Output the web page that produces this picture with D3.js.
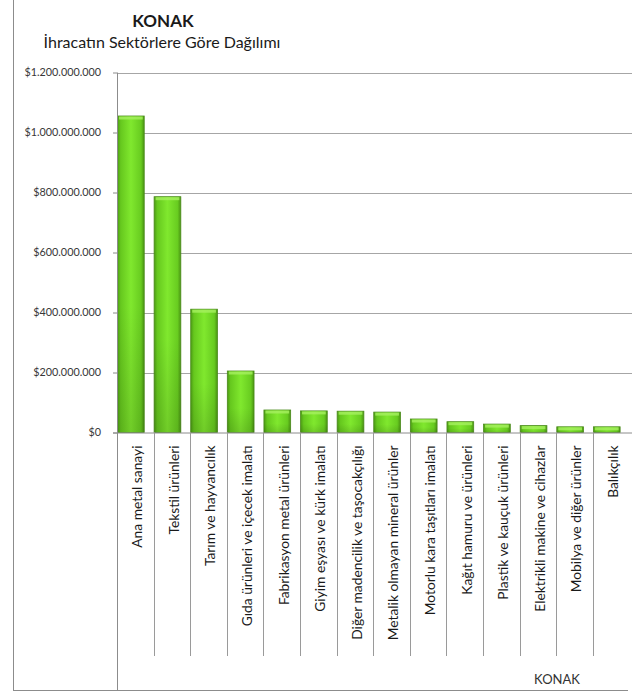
<!DOCTYPE html>
<html>
<head>
<meta charset="utf-8">
<script src="https://cdn.jsdelivr.net/npm/d3@7/dist/d3.min.js"></script>
<style>
  html, body { margin: 0; padding: 0; background: #fff; }
  svg { display: block; }
  text { font-family: Lato, "Open Sans", sans-serif; }
</style>
</head>
<body>
<svg id="chart" width="632" height="694"></svg>
<script>
const categories = [
  "Ana metal sanayi",
  "Tekstil ürünleri",
  "Tarım ve hayvancılık",
  "Gıda ürünleri ve içecek imalatı",
  "Fabrikasyon metal ürünleri",
  "Giyim eşyası ve kürk imalatı",
  "Diğer madencilik ve taşocakçılığı",
  "Metalik olmayan mineral ürünler",
  "Motorlu kara taşıtları imalatı",
  "Kağıt hamuru ve ürünleri",
  "Plastik ve kauçuk ürünleri",
  "Elektrikli makine ve cihazlar",
  "Mobilya ve diğer ürünler",
  "Balıkçılık"
];
const values = [1055e6, 786e6, 411e6, 205e6, 75e6, 72e6, 71e6, 68e6, 45e6, 36e6, 28e6, 23e6, 19e6, 19e6];
const yTicks = [0, 200e6, 400e6, 600e6, 800e6, 1000e6, 1200e6];
const title = "KONAK";
const subtitle = "İhracatın Sektörlere Göre Dağılımı";
const groupLabel = "KONAK";

const svg = d3.select("#chart");

const plotLeft = 117, plotRight = 629.5, plotTop = 72.5, plotBottom = 432.5;

const x = d3.scaleBand().domain(categories).range([plotLeft, plotRight]).paddingInner(0).paddingOuter(0);
const y = d3.scaleLinear().domain([0, 1200e6]).range([plotBottom, plotTop]);

const locale = d3.formatLocale({decimal: ",", thousands: ".", grouping: [3], currency: ["$", ""]});
const fmt = locale.format("$,");

// gradient
const defs = svg.append("defs");
const g1 = defs.append("linearGradient").attr("id", "barGrad").attr("x1", "0").attr("x2", "1").attr("y1", "0").attr("y2", "0");
[[0, "#4c9a14"], [0.12, "#66c81e"], [0.5, "#80e82e"], [0.88, "#68cc20"], [1, "#4a9412"]].forEach(([o, c]) =>
  g1.append("stop").attr("offset", o).attr("stop-color", c));
const g2 = defs.append("linearGradient").attr("id", "barGradV").attr("x1", "0").attr("x2", "0").attr("y1", "0").attr("y2", "1");
[[0, "#ffffff", 0.0], [0.6, "#000000", 0.0], [1, "#000000", 0.12]].forEach(([o, c, op]) =>
  g2.append("stop").attr("offset", o).attr("stop-color", c).attr("stop-opacity", op));

// outer border
svg.append("line").attr("x1", 13.5).attr("x2", 13.5).attr("y1", 0).attr("y2", 691).attr("stroke", "#8c8c8c");
svg.append("line").attr("x1", 13).attr("x2", 628).attr("y1", 690.5).attr("y2", 690.5).attr("stroke", "#8c8c8c");

// titles
svg.append("text").attr("x", 163).attr("y", 27).attr("text-anchor", "middle")
  .attr("font-size", 17).attr("font-weight", "bold").attr("fill", "#1a1a1a").text(title);
svg.append("text").attr("x", 162).attr("y", 48).attr("text-anchor", "middle")
  .attr("font-size", 16).attr("fill", "#1a1a1a").text(subtitle);

// gridlines
svg.append("g").selectAll("line").data(yTicks.filter(d => d > 0)).join("line")
  .attr("x1", plotLeft).attr("x2", 632)
  .attr("y1", d => Math.round(y(d)) + 0.5).attr("y2", d => Math.round(y(d)) + 0.5)
  .attr("stroke", "#a6a6a6").attr("stroke-width", 1);

// y axis
const yAxis = d3.axisLeft(y).tickValues(yTicks).tickFormat(fmt).tickSize(4).tickPadding(12);
const ya = svg.append("g").attr("transform", `translate(${plotLeft},0)`).call(yAxis);
ya.select(".domain").remove();
ya.selectAll(".tick line").attr("stroke", "#8c8c8c");
ya.selectAll(".tick text").attr("font-size", 10.8).attr("fill", "#383838").attr("font-family", "Lato, sans-serif");

// bars
const bw = x.bandwidth() * 0.73;
const bars = svg.append("g");
bars.selectAll("rect.bar").data(values).join("rect").attr("class", "bar")
  .attr("x", (d, i) => x(categories[i]) + 0.5)
  .attr("y", d => y(d))
  .attr("width", bw)
  .attr("height", d => y(0) - y(d))
  .attr("fill", "url(#barGrad)")
  .attr("stroke", "#4b8a1c").attr("stroke-width", 0.8);
bars.selectAll("rect.shade").data(values).join("rect").attr("class", "shade")
  .attr("x", (d, i) => x(categories[i]) + 0.5)
  .attr("y", d => y(d))
  .attr("width", bw)
  .attr("height", d => y(0) - y(d))
  .attr("fill", "url(#barGradV)");
bars.selectAll("rect.top").data(values).join("rect").attr("class", "top")
  .attr("x", (d, i) => x(categories[i]) + 2)
  .attr("y", d => y(d) + 0.5)
  .attr("width", bw - 3)
  .attr("height", 3)
  .attr("fill", "#a6f060").attr("opacity", 0.8);

// x axis line at zero
svg.append("line").attr("x1", plotLeft - 4).attr("x2", 632).attr("y1", plotBottom + 0.5).attr("y2", plotBottom + 0.5)
  .attr("stroke", "#8c8c8c");
// y axis line
svg.append("line").attr("x1", plotLeft + 0.5).attr("x2", plotLeft + 0.5).attr("y1", plotTop).attr("y2", 691)
  .attr("stroke", "#8c8c8c");

// category dividers
svg.append("g").selectAll("line").data(categories.slice(1)).join("line")
  .attr("x1", d => Math.round(x(d)) + 0.5).attr("x2", d => Math.round(x(d)) + 0.5)
  .attr("y1", plotBottom).attr("y2", 656)
  .attr("stroke", "#9a9a9a");

// category labels
const xAxis = d3.axisBottom(x).tickSize(0).tickPadding(0);
const xa = svg.append("g").attr("transform", `translate(0,${plotBottom})`).call(xAxis);
xa.select(".domain").remove();
xa.selectAll(".tick line").remove();
xa.selectAll(".tick text")
  .attr("transform", "translate(2,13) rotate(-90)")
  .attr("x", 0).attr("y", 0).attr("dy", "0.35em")
  .attr("text-anchor", "end")
  .attr("font-size", 13.8).attr("fill", "#1a1a1a").attr("font-family", "Lato, sans-serif");

// group label
svg.append("text").attr("x", 557).attr("y", 684).attr("text-anchor", "middle")
  .attr("font-size", 13).attr("fill", "#333").text(groupLabel);
</script>
</body>
</html>
